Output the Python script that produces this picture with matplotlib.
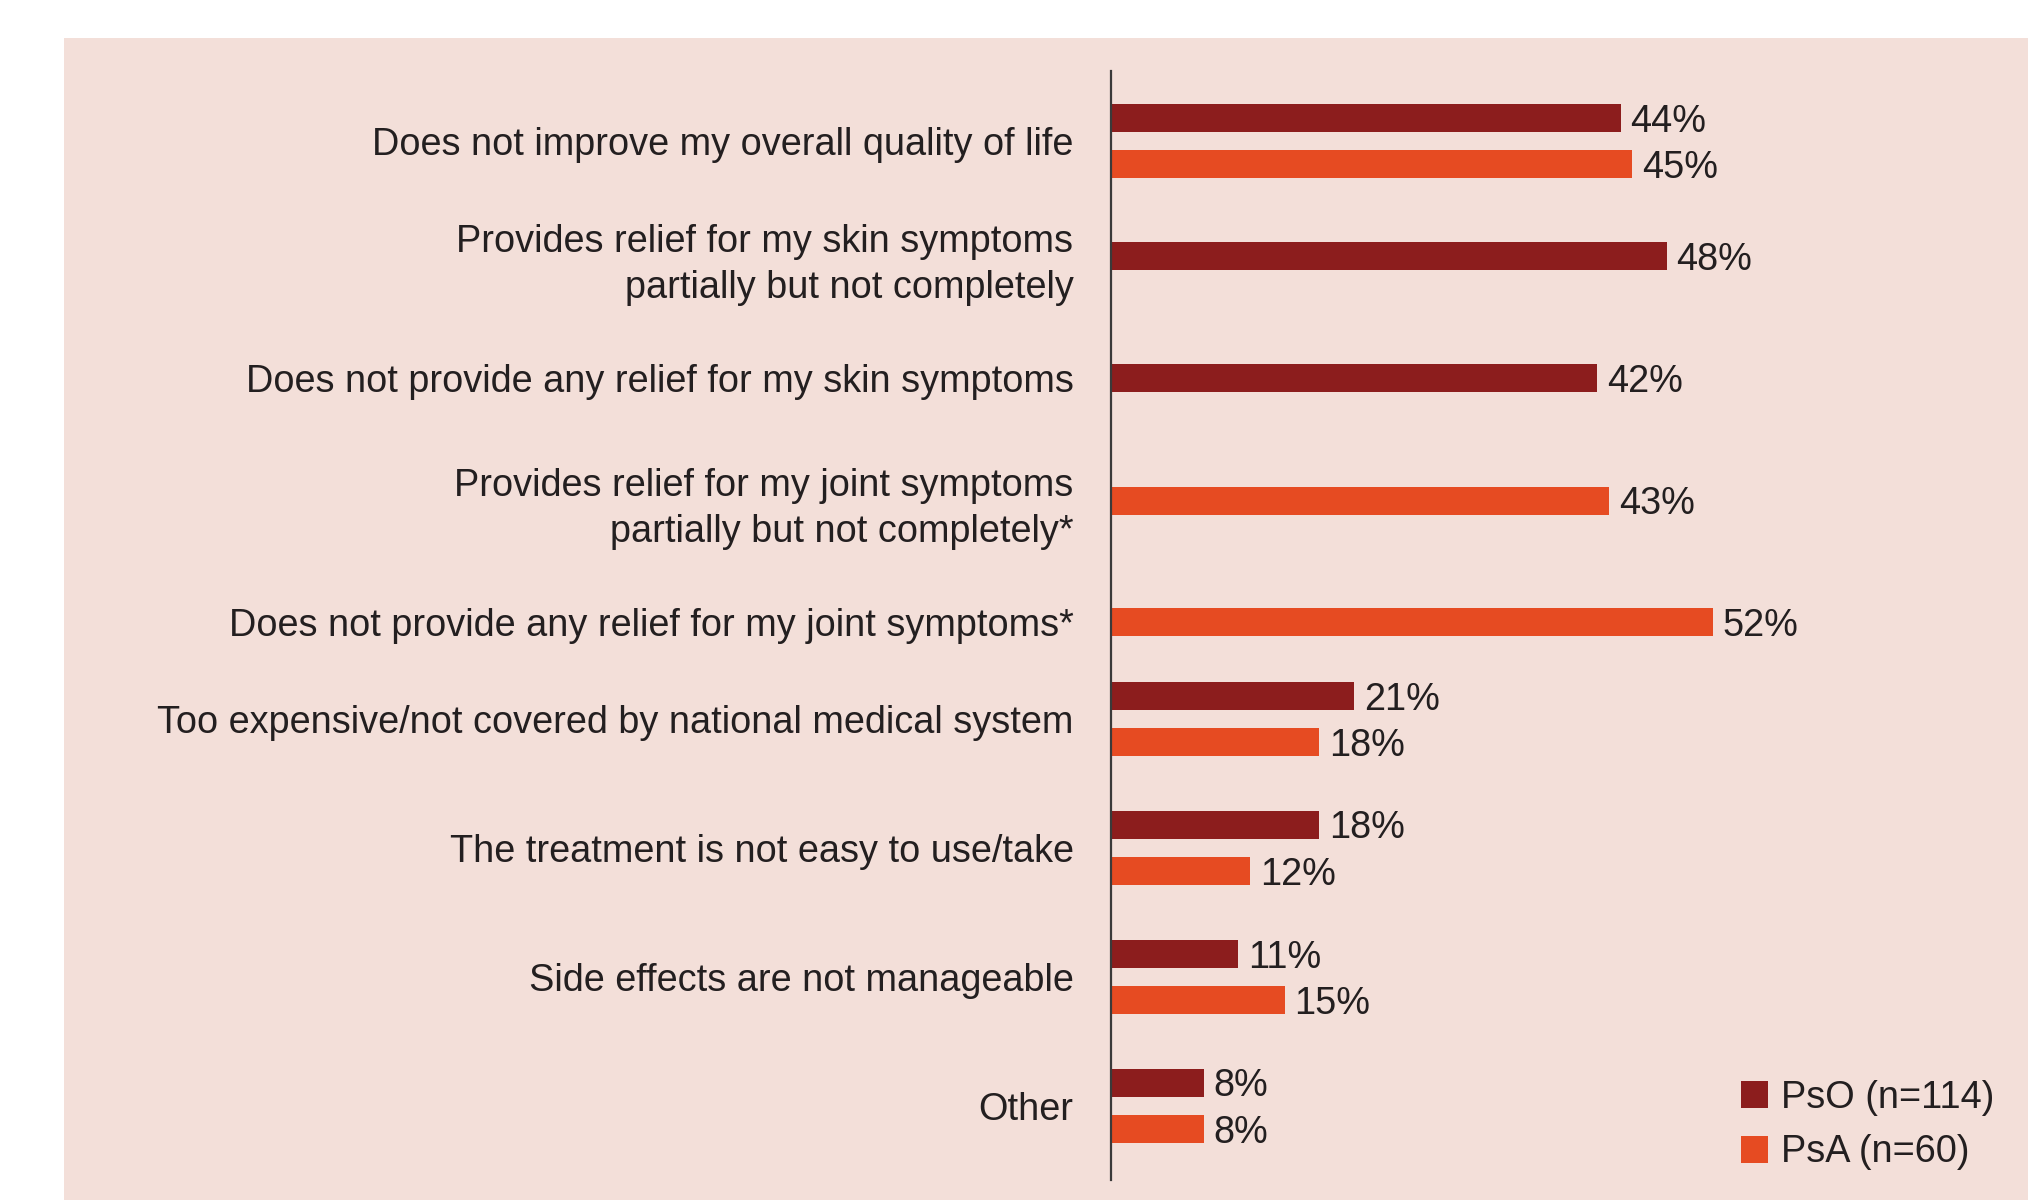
import matplotlib
matplotlib.use("Agg")
import matplotlib.pyplot as plt
from matplotlib.patches import Rectangle, Patch

# данные
categories = [
    "Does not improve my overall quality of life",
    "Provides relief for my skin symptoms\npartially but not completely",
    "Does not provide any relief for my skin symptoms",
    "Provides relief for my joint symptoms\npartially but not completely*",
    "Does not provide any relief for my joint symptoms*",
    "Too expensive/not covered by national medical system",
    "The treatment is not easy to use/take",
    "Side effects are not manageable",
    "Other",
]
pso = [44, 48, 42, None, None, 21, 18, 11, 8]
psa = [45, None, None, 43, 52, 18, 12, 15, 8]
series_names = ["PsO (n=114)", "PsA (n=60)"]

# оформление
W, H = 2028, 1200
c_pso = "#8C1D1D"
c_psa = "#E64B22"
bg = "#F3DFD9"
txt = "#231F20"
plt.rcParams["font.family"] = ["Liberation Sans", "DejaVu Sans"]
fs = 27.3

# центры категорий (пиксели сверху)
centers = [141, 256, 377.6, 500.5, 622, 719, 847.8, 977, 1105.8]
off = 23.3
bar_h = 28

fig = plt.figure(figsize=(W / 100, H / 100), dpi=100)
fig.patch.set_facecolor("white")
fig.patches.append(Rectangle((64 / W, 0), 1 - 64 / W, 1 - 38 / H,
                             transform=fig.transFigure, facecolor=bg,
                             edgecolor="none", zorder=-10))

x0, x1 = 1111, 1111 + 11.58 * 70
y_top, y_bot = 71, 1180
ax = fig.add_axes([x0 / W, 1 - y_bot / H, (x1 - x0) / W, (y_bot - y_top) / H])
ax.set_facecolor("none")
ax.set_xlim(0, 70)
ax.set_ylim(y_bot, y_top)

for i, c in enumerate(centers):
    a, b = pso[i], psa[i]
    both = a is not None and b is not None
    for v, col, dy in [(a, c_pso, -off), (b, c_psa, off)]:
        if v is None:
            continue
        y = c + dy if both else c
        ax.barh(y, v, height=bar_h, color=col, zorder=2)
        ax.annotate(f"{v}%", (v, y), xytext=(7, 0), textcoords="offset points",
                    ha="left", va="center_baseline", fontsize=fs, color=txt)

ax.set_yticks(centers)
ax.set_yticklabels(categories, fontsize=fs, color=txt, linespacing=1.35)
ax.tick_params(axis="y", length=0, pad=27)
ax.set_xticks([])
for s in ["top", "right", "bottom"]:
    ax.spines[s].set_visible(False)
ax.spines["left"].set_color("#3a3a3a")
ax.spines["left"].set_linewidth(1.6)

handles = [Patch(facecolor=c_pso), Patch(facecolor=c_psa)]
ax.legend(handles, series_names, loc="center left",
          bbox_to_anchor=(1741 / W, 1 - 1125 / H), bbox_transform=fig.transFigure,
          frameon=False, fontsize=fs, handlelength=0.71, handleheight=0.71,
          handletextpad=0.35, labelspacing=0.5, borderpad=0, borderaxespad=0,
          labelcolor=txt)

fig.savefig("out.png", dpi=100)
